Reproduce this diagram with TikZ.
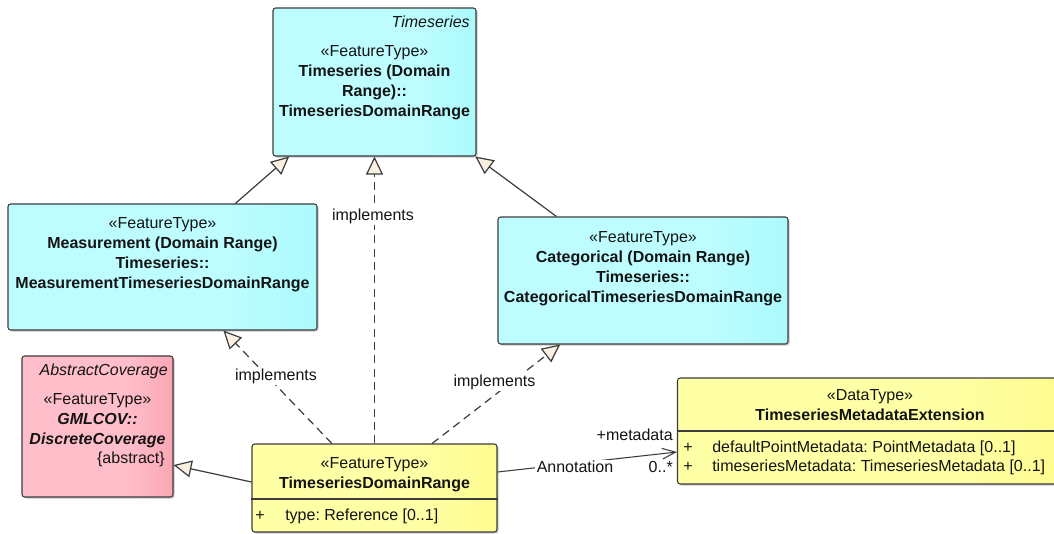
\documentclass[tikz,border=0pt]{standalone}
\usepackage{fontspec}
\setmainfont{Liberation Sans}
\frenchspacing
\usetikzlibrary{arrows.meta,shadows,calc}
\definecolor{linec}{RGB}{60,60,60}
\definecolor{txtc}{RGB}{20,20,20}
\definecolor{tipfill}{RGB}{250,240,226}
\definecolor{cyA}{RGB}{150,246,250}
\definecolor{cyB}{RGB}{190,253,255}
\definecolor{cyC}{RGB}{140,246,250}
\definecolor{rdA}{RGB}{245,150,168}
\definecolor{rdB}{RGB}{255,190,202}
\definecolor{rdC}{RGB}{245,125,145}
\definecolor{ylA}{RGB}{255,255,135}
\definecolor{ylB}{RGB}{255,255,165}
\definecolor{ylC}{RGB}{252,246,105}
\pgfdeclarehorizontalshading{cyansh}{100bp}{color(0bp)=(cyA); color(22bp)=(cyB); color(60bp)=(cyB); color(100bp)=(cyC)}
\pgfdeclarehorizontalshading{redsh}{100bp}{color(0bp)=(rdA); color(22bp)=(rdB); color(60bp)=(rdB); color(100bp)=(rdC)}
\pgfdeclarehorizontalshading{yelsh}{100bp}{color(0bp)=(ylA); color(22bp)=(ylB); color(60bp)=(ylB); color(100bp)=(ylC)}
\tikzset{
  umlbox/.style={draw=linec, line width=0.8pt, rounded corners=2pt, inner sep=0pt,
    drop shadow={shadow xshift=1.2pt, shadow yshift=-1.2pt, opacity=0.3, fill=black!70}},
  cybox/.style={umlbox, shade, shading=cyansh},
  rdbox/.style={umlbox, shade, shading=redsh},
  ylbox/.style={umlbox, shade, shading=yelsh},
  lbl/.style={font=\fontsize{12}{15}\selectfont, inner sep=0pt, text=txtc},
  ctext/.style={lbl, anchor=base, align=center},
  gen/.style={draw=linec, line width=0.9pt, -{Triangle[length=13.5pt,width=12.75pt,fill=tipfill]}},
  impl/.style={gen, dash pattern=on 6pt off 4pt},
  assoc/.style={draw=linec, line width=0.8pt, -{Straight Barb[length=10pt,width=8pt]}},
  onlbl/.style={lbl, fill=white, inner sep=1pt},
}
\begin{document}
\begin{tikzpicture}[x=0.75pt, y=-0.75pt]
\path[use as bounding box, clip] (0,0) rectangle (1054,533);
\fill[white] (0,0) rectangle (1054,533);

% boxes
\node[cybox, minimum width=152.25pt, minimum height=111pt] (ts) at (374.5,82) {};
\node[cybox, minimum width=231.75pt, minimum height=94.5pt] (meas) at (162.5,267) {};
\node[cybox, minimum width=217.5pt, minimum height=95.25pt] (cat) at (643,280.5) {};
\node[rdbox, minimum width=113.25pt, minimum height=105.75pt] (abs) at (97.5,426.5) {};
\node[ylbox, minimum width=183.75pt, minimum height=66pt] (tsd) at (374.5,488) {};
\node[ylbox, minimum width=288.75pt, minimum height=79.5pt] (dt) at (870,431) {};

% separators
\draw[linec, line width=0.8pt] (tsd.west |- 0,499) -- (tsd.east |- 0,499);
\draw[linec, line width=0.8pt] (dt.west |- 0,431) -- (dt.east |- 0,431);

% texts: Timeseries (base anchor = baseline of last line)
\node[lbl, anchor=base east] (tsns) at (470,27) {\itshape Timeseries};
\node[ctext] (tst) at (374.5,116) {«FeatureType»\\\textbf{Timeseries (Domain}\\\textbf{Range)::}\\\textbf{TimeseriesDomainRange}};
% Measurement
\node[ctext] (meast) at (162.5,288) {«FeatureType»\\\textbf{Measurement (Domain Range)}\\\textbf{Timeseries::}\\\textbf{MeasurementTimeseriesDomainRange}};
% Categorical
\node[ctext] (catt) at (643,302) {«FeatureType»\\\textbf{Categorical (Domain Range)}\\\textbf{Timeseries::}\\\textbf{CategoricalTimeseriesDomainRange}};
% Abstract coverage
\node[lbl, anchor=base east] (absns) at (168,375) {\itshape AbstractCoverage};
\node[ctext] (abst) at (97.5,444) {«FeatureType»\\\textbf{\textit{GMLCOV::}}\\\textbf{\textit{DiscreteCoverage}}};
\node[lbl, anchor=base east] (absab) at (165,463) {\{abstract\}};
% TimeseriesDomainRange
\node[ctext] (tsdt) at (374.5,488) {«FeatureType»\\\textbf{TimeseriesDomainRange}};
\node[lbl, anchor=base] (tsdp) at (260,520) {+};
\node[lbl, anchor=base west] (tsda) at (285,520) {type: Reference [0..1]};
% DataType
\node[ctext] (dtt) at (870,420) {«DataType»\\\textbf{TimeseriesMetadataExtension}};
\node[lbl, anchor=base] (dtp1) at (688,452) {+};
\node[lbl, anchor=base west] (dta1) at (712,452) {defaultPointMetadata: PointMetadata [0..1]};
\node[lbl, anchor=base] (dtp2) at (688,471) {+};
\node[lbl, anchor=base west] (dta2) at (712,471) {timeseriesMetadata: TimeseriesMetadata [0..1]};

% connectors
\draw[gen] (meas) -- (ts);
\draw[gen] (cat) -- (ts);
\draw[impl] (tsd) -- (ts);
\draw[impl] (tsd) -- (meas);
\draw[impl] (tsd) -- (cat);
\draw[gen] ([yshift=4.5pt]tsd.west) -- ([yshift=-28.9pt]abs.east);
\draw[assoc] ([yshift=12pt]tsd.east) -- ([yshift=-15.75pt]dt.west);

% connector labels
\node[onlbl] (im1) at (373,216) {implements};
\node[onlbl] (im2) at (276,376) {implements};
\node[onlbl] (im3) at (494.5,382) {implements};
\node[onlbl] (ann) at (575,467) {Annotation};
\node[lbl, anchor=base east] (role) at (673,440) {+metadata};
\node[lbl, anchor=base east] (mult) at (673,472) {0..*};
\end{tikzpicture}
\end{document}
